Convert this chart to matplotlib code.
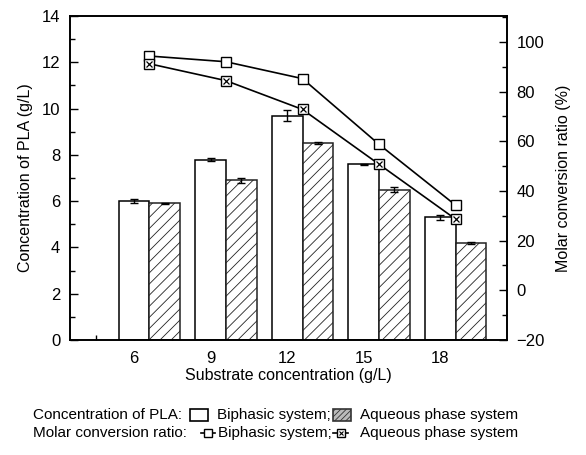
import numpy as np
import matplotlib
matplotlib.use('Agg')
import matplotlib.pyplot as plt
from matplotlib.patches import Rectangle
from matplotlib.lines import Line2D

plt.rcParams['font.family'] = ['Liberation Sans', 'DejaVu Sans']
plt.rcParams['hatch.linewidth'] = 0.6

# data
substrate = [6, 9, 12, 15, 18]
pla_biphasic = [6.0, 7.8, 9.7, 7.6, 5.3]
pla_biphasic_err = [0.1, 0.05, 0.25, 0.02, 0.1]
pla_aqueous = [5.9, 6.9, 8.5, 6.5, 4.2]
pla_aqueous_err = [0.02, 0.1, 0.05, 0.1, 0.03]
ratio_biphasic = [94.3, 92.0, 85.2, 58.7, 34.2]
ratio_biphasic_err = [1.5, 1.0, 1.5, 1.0, 1.0]
ratio_aqueous = [91.2, 84.4, 72.8, 50.7, 28.6]
ratio_aqueous_err = [1.0, 0.8, 1.0, 1.0, 1.0]

x = np.array(substrate, dtype=float)
w = 1.2

fig = plt.figure(figsize=(5.86, 4.55), dpi=100)
ax = fig.add_axes([0.1195, 0.2527, 0.7455, 0.7121])
ax2 = ax.twinx()

ax.bar(x, pla_biphasic, w, color='white', edgecolor='black', linewidth=1.1,
       yerr=pla_biphasic_err, capsize=3, error_kw=dict(elinewidth=1, capthick=1), zorder=2)
ax.bar(x + w, pla_aqueous, w, color='white', edgecolor='#222222', linewidth=1.1,
       hatch='///', yerr=pla_aqueous_err, capsize=3,
       error_kw=dict(elinewidth=1, capthick=1), zorder=2)

xl = x + w / 2
ax2.errorbar(xl, ratio_biphasic, yerr=ratio_biphasic_err, color='black', lw=1.2,
             marker='s', ms=6.5, mfc='white', mec='black', mew=1, capsize=2.5, zorder=3)
ax2.errorbar(xl, ratio_aqueous, yerr=ratio_aqueous_err, color='black', lw=1.2,
             marker='s', ms=6.5, mfc='white', mec='black', mew=1, capsize=2.5, zorder=3)
ax2.plot(xl, ratio_aqueous, ls='none', marker='x', ms=4.5, mec='black', mew=0.9, zorder=4)

ax.set_xlim(3.5, 20.6)
ax.set_ylim(0, 14)
ax2.set_ylim(-20, 110.4)
ax.set_xticks(substrate)
ax.set_xticks([4.5, 7.5, 10.5, 13.5, 16.5, 19.5], minor=True)
ax.set_yticks(range(0, 15, 2))
ax.set_yticks(range(1, 14, 2), minor=True)
ax2.set_yticks(range(-20, 101, 20))
ax2.set_yticks(range(-10, 111, 20), minor=True)

for a in (ax, ax2):
    a.tick_params(direction='in', which='major', length=6, width=1, labelsize=12, pad=7)
    a.tick_params(direction='in', which='minor', length=3.5, width=1)
    for s in a.spines.values():
        s.set_linewidth(1.2)
ax.tick_params(axis='x', pad=8)

ax.set_xlabel('Substrate concentration (g/L)', fontsize=11.5, labelpad=1)
ax.set_ylabel('Concentration of PLA (g/L)', fontsize=11.5, labelpad=6)
ax2.set_ylabel('Molar conversion ratio (%)', fontsize=11.5, labelpad=8)

# legend at the bottom
fs = 11
W, H = 586, 455
y1, y2 = 1 - 415 / H, 1 - 433 / H
fig.text(33 / W, y1, 'Concentration of PLA:', fontsize=fs, va='center')
fig.add_artist(Rectangle((190 / W, y1 - 6 / H), 18 / W, 12 / H, transform=fig.transFigure,
                         facecolor='white', edgecolor='black', lw=1.2))
fig.text(217 / W, y1, 'Biphasic system;', fontsize=fs, va='center')
fig.add_artist(Rectangle((333 / W, y1 - 6 / H), 18 / W, 12 / H, transform=fig.transFigure,
                         facecolor='#bbbbbb', edgecolor='#333333', lw=1.2, hatch='//////'))
fig.text(360 / W, y1, 'Aqueous phase system', fontsize=fs, va='center')

fig.text(33 / W, y2, 'Molar conversion ratio:', fontsize=fs, va='center')
fig.add_artist(Line2D([201 / W, 215 / W], [y2, y2], transform=fig.transFigure,
                      color='black', lw=1.2))
fig.add_artist(Line2D([208 / W], [y2], transform=fig.transFigure, marker='s', ms=5.5,
                      mfc='white', mec='black', ls='none'))
fig.text(218 / W, y2, 'Biphasic system;', fontsize=fs, va='center')
fig.add_artist(Line2D([333 / W, 348 / W], [y2, y2], transform=fig.transFigure,
                      color='black', lw=1.2))
fig.add_artist(Line2D([340.5 / W], [y2], transform=fig.transFigure, marker='s', ms=5.5,
                      mfc='white', mec='black', ls='none'))
fig.add_artist(Line2D([340.5 / W], [y2], transform=fig.transFigure, marker='x', ms=3.5,
                      mec='black', mew=0.8, ls='none'))
fig.text(360 / W, y2, 'Aqueous phase system', fontsize=fs, va='center')

fig.savefig('out.png', dpi=100)
